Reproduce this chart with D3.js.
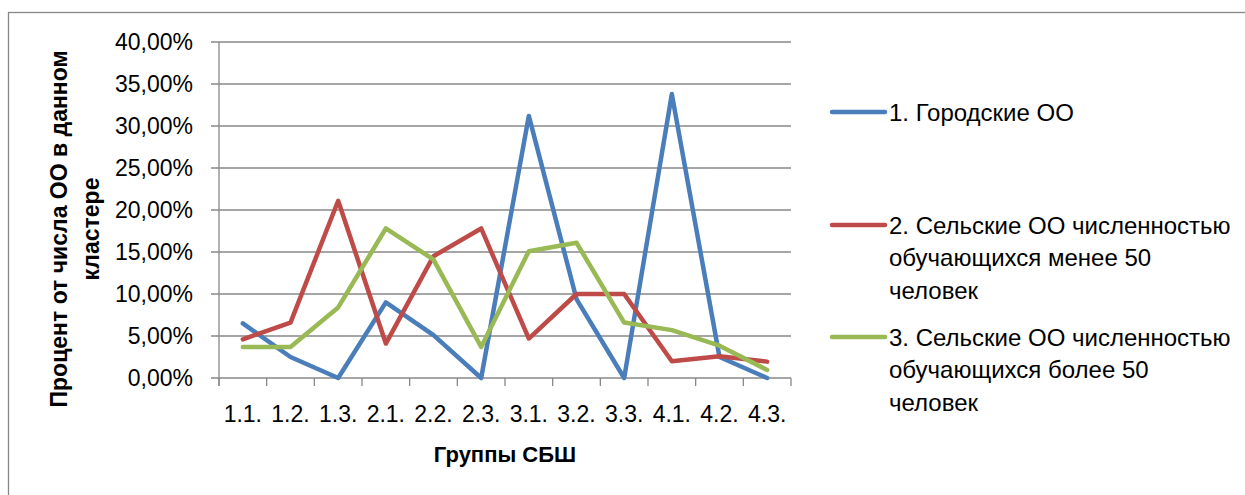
<!DOCTYPE html>
<html lang="ru">
<head>
    <meta charset="UTF-8">
    <title>Группы СБШ</title>
    <script src="https://d3js.org/d3.v7.min.js"></script>
    <style>
        body {
            margin: 0;
            background: #fff;
        }
        svg text {
            font-family: "Liberation Sans", Arial, sans-serif;
            fill: #000;
        }
    </style>
</head>
<body>
    <div id="chart"></div>
    <script>
        // Data (percent)
        const categories = ['1.1.', '1.2.', '1.3.', '2.1.', '2.2.', '2.3.', '3.1.', '3.2.', '3.3.', '4.1.', '4.2.', '4.3.'];
        const urban = [6.5, 2.5, 0, 9.0, 5.1, 0, 31.2, 9.4, 0, 33.8, 2.5, 0];
        const ruralSmall = [4.6, 6.6, 21.1, 4.1, 14.5, 17.8, 4.7, 10.0, 10.0, 2.0, 2.6, 1.95];
        const ruralLarge = [3.7, 3.7, 8.4, 17.8, 14.1, 3.7, 15.1, 16.1, 6.6, 5.7, 3.85, 0.95];
        const yTicks = [0, 5, 10, 15, 20, 25, 30, 35, 40];
        const seriesNames = [
            ['1. Городские ОО'],
            ['2. Сельские ОО численностью', 'обучающихся менее 50', 'человек'],
            ['3. Сельские ОО численностью', 'обучающихся более 50', 'человек']
        ];
        const colors = ['#4a7ebb', '#be4b48', '#98b954'];
        const series = [urban, ruralSmall, ruralLarge];

        const width = 1245, height = 495;
        const plot = { left: 219, right: 791, top: 42, bottom: 378 };

        const svg = d3.select('#chart').append('svg')
            .attr('width', width)
            .attr('height', height);

        // outer chart border (right/bottom fall outside the picture)
        svg.append('rect')
            .attr('x', 8.5).attr('y', 12.5)
            .attr('width', 1300).attr('height', 600)
            .attr('fill', 'none')
            .attr('stroke', '#888')
            .attr('stroke-width', 1.3);

        const x = d3.scaleBand().domain(categories).range([plot.left, plot.right]);
        const y = d3.scaleLinear().domain([0, 40]).range([plot.bottom, plot.top]);

        // gridlines
        svg.append('g')
            .selectAll('line')
            .data(yTicks)
            .join('line')
            .attr('x1', plot.left - 8).attr('x2', plot.right)
            .attr('y1', d => y(d)).attr('y2', d => y(d))
            .attr('stroke', '#888')
            .attr('stroke-width', 1.3);

        // y axis line
        svg.append('line')
            .attr('x1', plot.left).attr('x2', plot.left)
            .attr('y1', plot.top).attr('y2', plot.bottom + 8)
            .attr('stroke', '#888').attr('stroke-width', 1.3);

        // x tick marks at category boundaries
        const bounds = categories.map(c => x(c)).concat([plot.right]);
        svg.append('g')
            .selectAll('line')
            .data(bounds)
            .join('line')
            .attr('x1', d => d).attr('x2', d => d)
            .attr('y1', plot.bottom).attr('y2', plot.bottom + 8)
            .attr('stroke', '#888').attr('stroke-width', 1.3);

        // y tick labels
        svg.append('g')
            .selectAll('text')
            .data(yTicks)
            .join('text')
            .attr('x', 193)
            .attr('y', d => y(d))
            .attr('dy', '0.36em')
            .attr('text-anchor', 'end')
            .style('font-size', '23px')
            .text(d => d.toFixed(2).replace('.', ',') + '%');

        // x tick labels
        svg.append('g')
            .selectAll('text')
            .data(categories)
            .join('text')
            .attr('x', d => x(d) + x.bandwidth() / 2)
            .attr('y', 422)
            .attr('text-anchor', 'middle')
            .style('font-size', '23px')
            .text(d => d);

        // axis titles
        svg.append('text')
            .attr('x', (plot.left + plot.right) / 2)
            .attr('y', 462)
            .attr('text-anchor', 'middle')
            .style('font-size', '22px')
            .style('font-weight', 'bold')
            .text('Группы СБШ');

        const yTitle = svg.append('text')
            .attr('transform', 'translate(67,229) rotate(-90)')
            .attr('text-anchor', 'middle')
            .style('font-size', '23px')
            .style('font-weight', 'bold');
        yTitle.append('tspan').attr('x', 0).attr('y', 0).text('Процент от числа ОО в данном');
        yTitle.append('tspan').attr('x', 0).attr('y', 32).text('кластере');

        // lines
        const line = d3.line()
            .x((d, i) => x(categories[i]) + x.bandwidth() / 2)
            .y(d => y(d));

        svg.append('g')
            .selectAll('path')
            .data(series)
            .join('path')
            .attr('d', d => line(d))
            .attr('fill', 'none')
            .attr('stroke', (d, i) => colors[i])
            .attr('stroke-width', 4.5)
            .attr('stroke-linejoin', 'round')
            .attr('stroke-linecap', 'round');

        // legend
        const legendY = [112, 225, 337];
        const legend = svg.append('g')
            .selectAll('g')
            .data(seriesNames)
            .join('g')
            .attr('transform', (d, i) => `translate(0,${legendY[i]})`);

        legend.append('line')
            .attr('x1', 832).attr('x2', 885)
            .attr('y1', 0).attr('y2', 0)
            .attr('stroke', (d, i) => colors[i])
            .attr('stroke-width', 4.5)
            .attr('stroke-linecap', 'round');

        legend.each(function (lines) {
            const t = d3.select(this).append('text')
                .style('font-size', '24px');
            lines.forEach((s, j) => {
                t.append('tspan')
                    .attr('x', 889)
                    .attr('y', j * 32.5)
                    .attr('dy', '0.36em')
                    .text(s);
            });
        });
    </script>
</body>
</html>
